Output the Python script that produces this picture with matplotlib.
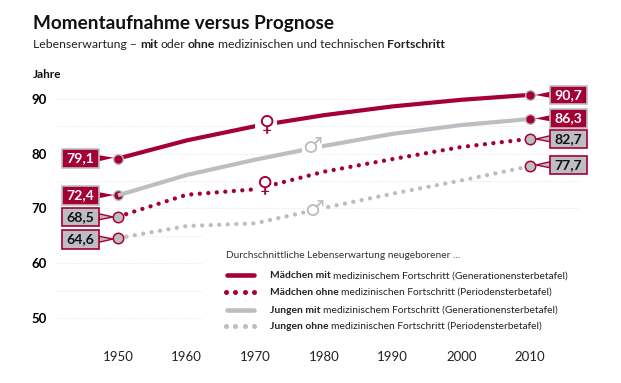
import matplotlib
matplotlib.use("Agg")
import matplotlib.pyplot as plt
from matplotlib.patches import Rectangle, Polygon
from matplotlib.transforms import Affine2D

# Daten
years = [1950, 1960, 1970, 1980, 1990, 2000, 2010]
girls_with = [79.1, 82.4, 85.0, 87.0, 88.6, 89.8, 90.7]
girls_without = [68.5, 72.5, 73.5, 76.7, 79.0, 81.2, 82.7]
boys_with = [72.4, 76.1, 78.9, 81.4, 83.6, 85.2, 86.3]
boys_without = [64.6, 66.8, 67.3, 70.1, 72.7, 75.1, 77.7]
x_ticks = [1950, 1960, 1970, 1980, 1990, 2000, 2010]
y_ticks = [50, 60, 70, 80, 90]
y_minor = [45, 55, 65, 75, 85]

RED = "#A50034"
GREY = "#BDBEC3"
FONT = "Lato"
W, H = 621, 383

plt.rcParams["font.family"] = [FONT, "DejaVu Sans"]

fig = plt.figure(figsize=(W / 100, H / 100), dpi=100)
# Achsen so legen, dass 1950/2010 und 45/90 auf den Pixeln des Originals liegen
px_per_year = (530 - 118) / 60
left, right = 57, 580
top, bottom = 98.7, 345.7
ax = fig.add_axes([left / W, 1 - bottom / H, (right - left) / W, (bottom - top) / H])
ax.set_xlim(1950 - (118 - left) / px_per_year, 2010 + (right - 530) / px_per_year)
ax.set_ylim(45, 90)
for s in ax.spines.values():
    s.set_visible(False)

ax.set_xticks(x_ticks)
ax.set_yticks(y_ticks)
ax.set_yticks(y_minor, minor=True)
ax.tick_params(which="both", length=0)
ax.tick_params(axis="x", labelsize=9.5, pad=3.5, labelcolor="#222222")
ax.tick_params(axis="y", pad=7, labelsize=9.5)
for lab in ax.get_yticklabels():
    lab.set_fontweight("bold")
ax.grid(which="both", axis="y", color="#e4e4e4", lw=0.7, ls=(0, (1, 1.5)))
ax.set_axisbelow(True)

# Pixel-Koordinaten (y nach unten) fuer Beschriftungen
px = Affine2D().scale(1 / W, -1 / H).translate(0, 1) + fig.transFigure

DOTS = (0, (0.01, 1.97))
ax.plot(years, girls_with, color=RED, lw=3.0, solid_capstyle="butt", zorder=3, clip_on=False)
ax.plot(years, boys_with, color=GREY, lw=3.0, solid_capstyle="butt", zorder=3, clip_on=False)
ax.plot(years, girls_without, color=RED, lw=3.1, ls=DOTS, dash_capstyle="round", zorder=3, clip_on=False)
ax.plot(years, boys_without, color=GREY, lw=3.1, ls=DOTS, dash_capstyle="round", zorder=3, clip_on=False)

# Endpunkte
ax.plot(1950, girls_with[0], "o", ms=7, mfc=RED, mec=GREY, mew=1, zorder=4)
ax.plot(2010, girls_with[-1], "o", ms=7, mfc=RED, mec=GREY, mew=1, zorder=4, clip_on=False)
ax.plot(1950, boys_with[0], "o", ms=7, mfc=RED, mec=GREY, mew=1, zorder=2.5)
ax.plot(2010, boys_with[-1], "o", ms=7, mfc=RED, mec=GREY, mew=1, zorder=4, clip_on=False)
for yr, val in [(1950, girls_without[0]), (1950, boys_without[0]),
                (2010, girls_without[-1]), (2010, boys_without[-1])]:
    ax.plot(yr, val, "o", ms=7.5, mfc=GREY, mec=RED, mew=1.1, zorder=4, clip_on=False)


def value_label(x0, y0, text, filled, tip_x, tip_y):
    w, h = 37, 18.5
    face, edge = (RED, GREY) if filled else (GREY, RED)
    base_x = x0 + w if tip_x > x0 else x0
    cy = y0 + h / 2
    fig.add_artist(Polygon([(base_x, cy - 3), (tip_x, tip_y), (base_x, cy + 3)], closed=True,
                           transform=px, facecolor=face, edgecolor=edge, lw=1.0 if not filled else 0, zorder=5))
    fig.add_artist(Rectangle((x0, y0), w, h, transform=px, facecolor=face, edgecolor=edge, lw=1.2, zorder=6))
    fig.text(x0 + w / 2, cy + 0.3, text, transform=px, ha="center", va="center", fontsize=10.2, fontweight="bold",
             color="white" if filled else "#111111", zorder=7)


value_label(62, 149, "79,1", True, 114, 157.7)
value_label(62, 186, "72,4", True, 114, 195)
value_label(62, 207.5, "68,5", False, 113, 217)
value_label(62, 230, "64,6", False, 113, 239)
value_label(550, 85.5, "90,7", True, 535, 95)
value_label(550, 109, "86,3", True, 535, 118.5)
value_label(550, 129.5, "82,7", False, 536, 139)
value_label(550, 155.5, "77,7", False, 536, 165)

# Symbole auf den Linien, mit weisser Luecke
for sx, sy, sym, col, r in [(266, 124, "\u2640", RED, 11), (312, 147, "\u2642", GREY, 10),
                            (264, 185, "\u2640", RED, 10), (314, 210, "\u2642", GREY, 9)]:
    fig.add_artist(Rectangle((sx - r, sy - r), 2 * r, 2 * r, transform=px, facecolor="white", edgecolor="none", zorder=3.5))
    fig.text(sx, sy, sym, transform=px, ha="center", va="center", fontsize=16, color=col,
             family="DejaVu Sans", fontweight="bold", zorder=4)


def runs(x, y, parts, size, color="#222222"):
    # Text aus normalen und fetten Stuecken nacheinander setzen
    r = fig.canvas.get_renderer()
    for text, bold in parts:
        t = fig.text(x, y, text, transform=px, fontsize=size, va="center_baseline", color=color,
                     fontweight="bold" if bold else "normal", zorder=9)
        x += t.get_window_extent(r).width + size * 0.32


# Titel
fig.text(33, 23, "Momentaufnahme versus Prognose", transform=px, fontsize=13.65, fontweight="bold",
         va="center", color="#111111")
runs(33, 44, [("Lebenserwartung \u2013", False), ("mit", True), ("oder", False), ("ohne", True),
              ("medizinischen und technischen", False), ("Fortschritt", True)], 8.8)
fig.text(33, 75, "Jahre", transform=px, fontsize=8.5, fontweight="bold", va="center", color="#111111")

# Legende
fig.add_artist(Rectangle((203, 234), 385, 101, transform=px, facecolor="white", edgecolor="none", zorder=1.5))
fig.text(226, 256, "Durchschnittliche Lebenserwartung neugeborener ...", transform=px, fontsize=7.3,
         va="center", color="#333333", zorder=9)
rows = [
    (275, RED, False, "M\u00e4dchen mit", "medizinischem Fortschritt (Generationensterbetafel)"),
    (291.5, RED, True, "M\u00e4dchen ohne", "medizinischen Fortschritt (Periodensterbetafel)"),
    (309.5, GREY, False, "Jungen mit", "medizinischem Fortschritt (Generationensterbetafel)"),
    (325.5, GREY, True, "Jungen ohne", "medizinischen Fortschritt (Periodensterbetafel)"),
]
for y, col, dotted, strong, rest in rows:
    if dotted:
        for dx in [226, 235.3, 244.6, 253.9]:
            fig.add_artist(plt.Line2D([dx], [y], transform=px, color=col, ls="none", marker="o", ms=3.6, mew=0, zorder=9))
    else:
        fig.add_artist(plt.Line2D([227, 254], [y, y], transform=px, color=col, lw=3.3, solid_capstyle="round", zorder=9))
    runs(270, y, [(strong, True), (rest, False)], 7.35)

fig.savefig("out.png", dpi=100)
